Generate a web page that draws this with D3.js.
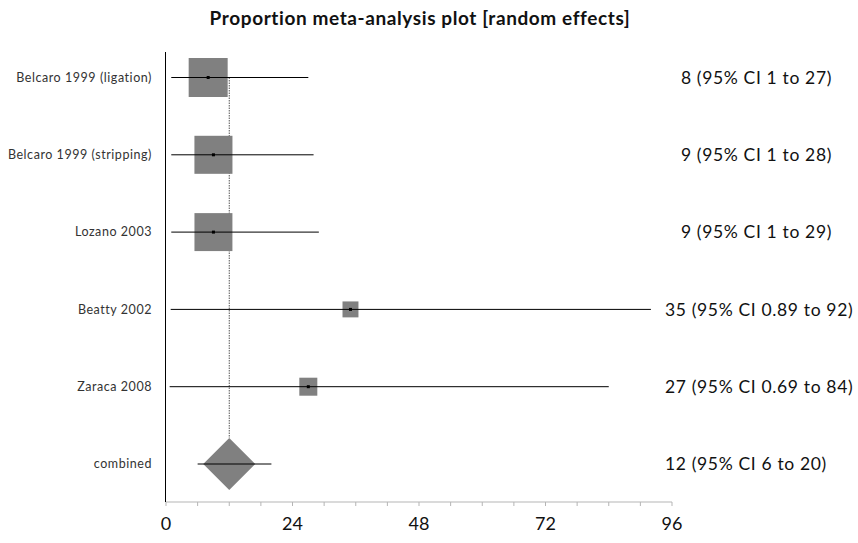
<!DOCTYPE html>
<html>
<head>
<meta charset="utf-8">
<script src="https://cdn.jsdelivr.net/npm/d3@7"></script>
<style>
  html, body { margin: 0; padding: 0; background: #fff; }
  svg { display: block; font-family: Lato, "Open Sans", sans-serif; }
</style>
</head>
<body>
<svg id="chart" width="858" height="543"></svg>
<script>
// Study-level proportions (%) with 95% confidence limits
const studies   = ["Belcaro 1999 (ligation)", "Belcaro 1999 (stripping)", "Lozano 2003", "Beatty 2002", "Zaraca 2008"];
const estimates = [8, 9, 9, 35, 27];
const lowers    = [1, 1, 1, 0.89, 0.69];
const uppers    = [27, 28, 29, 92, 84];
const weights   = [30.5, 29.0, 28.9, 5.1, 6.5];   // random-effects weights (%)

// Pooled (random effects) result
const pooledLabel    = "combined";
const pooledEstimate = 12;
const pooledLower    = 6;
const pooledUpper    = 20;

const xTicks      = [0, 24, 48, 72, 96];
const xMinorTicks = [0, 6, 12, 18, 24, 30, 36, 42, 48, 54, 60, 66, 72, 78, 84, 90, 96];

const svg = d3.select("#chart");

const x = d3.scaleLinear().domain([0, 96]).range([166, 672]);
const rows = studies.concat([pooledLabel]);
const y = d3.scalePoint().domain(rows).range([77.5, 464]);
const side = d3.scaleSqrt().domain([0, d3.max(weights)]).range([0, 39]);

const fmt = v => (v < 1 ? d3.format(".2f")(v) : d3.format(".0f")(v));

// Title
svg.append("text")
  .attr("x", 420).attr("y", 25)
  .attr("text-anchor", "middle")
  .attr("font-weight", "bold")
  .attr("font-size", 19)
  .attr("letter-spacing", 0.6)
  .attr("fill", "#111")
  .text("Proportion meta-analysis plot [random effects]");

// X axis with minor ticks and labelled majors
const axisY = 502;
const xAxis = svg.append("g").attr("transform", `translate(0,${axisY})`);
xAxis.append("line")
  .attr("x1", x(0)).attr("x2", x(96))
  .attr("stroke", "#b5b5b5").attr("stroke-width", 1);
xAxis.selectAll("line.tick").data(xMinorTicks).join("line")
  .attr("class", "tick")
  .attr("x1", d => x(d)).attr("x2", d => x(d))
  .attr("y1", 0).attr("y2", 4)
  .attr("stroke", "#b5b5b5");
xAxis.selectAll("text").data(xTicks).join("text")
  .attr("x", d => x(d)).attr("y", 28)
  .attr("text-anchor", "middle")
  .attr("font-size", 18)
  .attr("fill", "#111")
  .text(d => d);

// Vertical axis
svg.append("line")
  .attr("x1", x(0) - 0.5).attr("x2", x(0) - 0.5)
  .attr("y1", 52).attr("y2", axisY)
  .attr("stroke", "#000").attr("stroke-width", 1);

// Dotted reference line at the pooled estimate
svg.append("line")
  .attr("x1", x(pooledEstimate)).attr("x2", x(pooledEstimate))
  .attr("y1", y(studies[0])).attr("y2", y(pooledLabel) - 26)
  .attr("stroke", "#555").attr("stroke-width", 1)
  .attr("stroke-dasharray", "1.5,1");

// Study rows
const data = studies.map((s, i) => ({ s, est: estimates[i], lo: lowers[i], hi: uppers[i], w: weights[i] }));
const g = svg.append("g");

g.selectAll("rect.box").data(data).join("rect")
  .attr("class", "box")
  .attr("x", d => x(d.est) - side(d.w) / 2)
  .attr("y", d => y(d.s) - side(d.w) / 2)
  .attr("width", d => side(d.w))
  .attr("height", d => side(d.w))
  .attr("fill", "#808080");

g.selectAll("line.ci").data(data).join("line")
  .attr("class", "ci")
  .attr("x1", d => x(d.lo)).attr("x2", d => x(d.hi))
  .attr("y1", d => y(d.s)).attr("y2", d => y(d.s))
  .attr("stroke", "#000").attr("stroke-width", 1);

g.selectAll("rect.pt").data(data).join("rect")
  .attr("class", "pt")
  .attr("x", d => x(d.est) - 1.5).attr("y", d => y(d.s) - 1.5)
  .attr("width", 3).attr("height", 3)
  .attr("fill", "#000");

// Pooled diamond and its interval
const py = y(pooledLabel), px = x(pooledEstimate), half = 26;
svg.append("path")
  .attr("d", `M${px},${py - half}L${px + half},${py}L${px},${py + half}L${px - half},${py}Z`)
  .attr("fill", "#808080");
svg.append("line")
  .attr("x1", x(pooledLower)).attr("x2", x(pooledUpper))
  .attr("y1", py).attr("y2", py)
  .attr("stroke", "#000").attr("stroke-width", 1);

// Row labels on the left
svg.selectAll("text.row").data(rows).join("text")
  .attr("class", "row")
  .attr("x", 152).attr("y", d => y(d))
  .attr("dy", "0.35em")
  .attr("text-anchor", "end")
  .attr("font-size", 12.5)
  .attr("letter-spacing", 0.55)
  .attr("fill", "#333")
  .text(d => d);

// Estimate and interval text on the right
const rightRows = data.map(d => ({ key: d.s, est: d.est, lo: d.lo, hi: d.hi }))
  .concat([{ key: pooledLabel, est: pooledEstimate, lo: pooledLower, hi: pooledUpper }]);
svg.selectAll("text.res").data(rightRows).join("text")
  .attr("class", "res")
  .attr("x", 665).attr("y", d => y(d.key))
  .attr("dy", "0.35em")
  .attr("font-size", 17.5)
  .attr("letter-spacing", 0.65)
  .attr("fill", "#111")
  .style("white-space", "pre")
  .text(d => (d.est < 10 ? "\u2007 " : "") + `${fmt(d.est)} (95% CI ${fmt(d.lo)} to ${fmt(d.hi)})`);
</script>
</body>
</html>
